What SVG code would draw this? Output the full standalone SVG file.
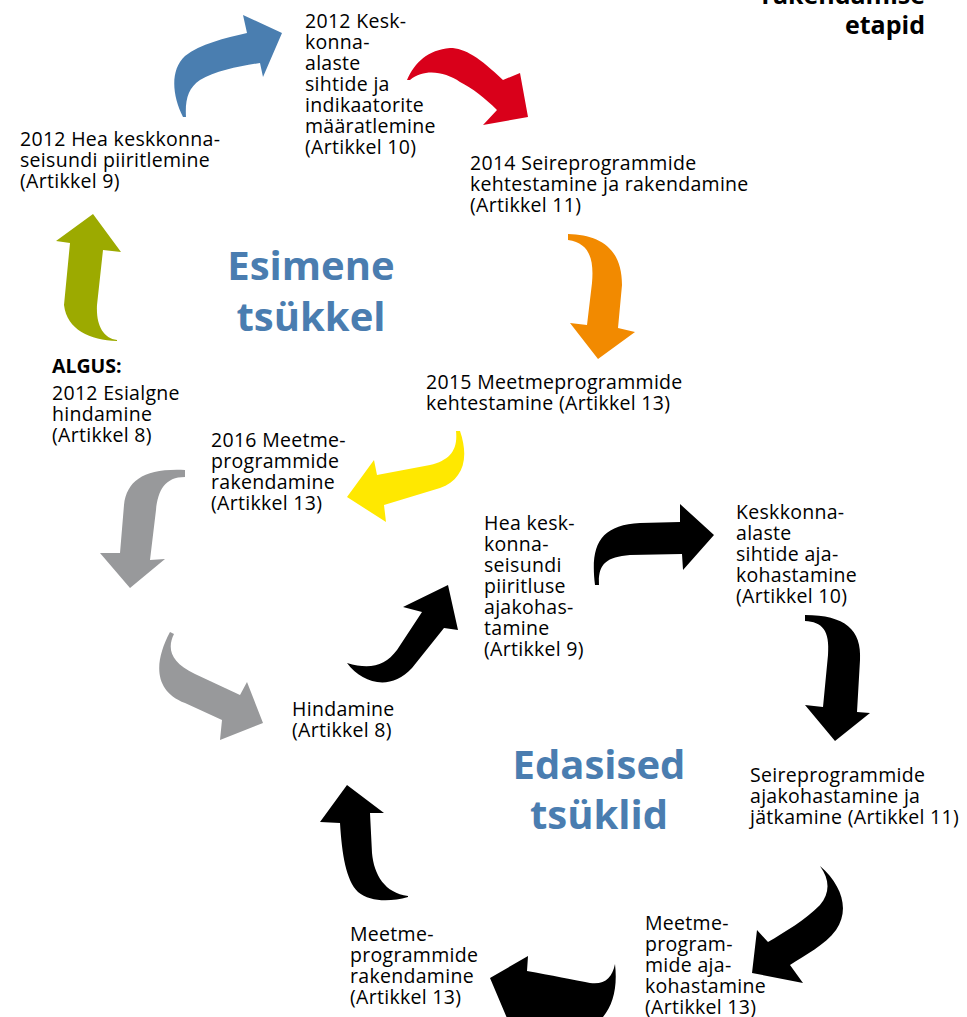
<svg xmlns="http://www.w3.org/2000/svg" width="967" height="1017" viewBox="0 0 967 1017">
<style>
.t{font-family:"Open Sans","Noto Sans","Liberation Sans",sans-serif;font-size:19.5px;letter-spacing:0.3px;fill:#000}
.b{font-weight:bold;letter-spacing:0}
.h{font-family:"Open Sans","Noto Sans","Liberation Sans",sans-serif;font-size:25px;font-weight:bold;fill:#000;text-anchor:end}
.title{font-family:"Open Sans","Noto Sans","Liberation Sans",sans-serif;font-size:40px;font-weight:bold;fill:#4A7DB0;text-anchor:middle}
.blue{fill:#4A7EB0}.red{fill:#D9001A}.orange{fill:#F28A00}.yellow{fill:#FFE800}.green{fill:#9CAA00}.gray{fill:#98999B}.black{fill:#000}
</style>
<rect width="967" height="1017" fill="#fff"/>
<g id="heading">
<text class="h" x="925" y="4">rakendamise</text>
<text class="h" x="925" y="34">etapid</text>
</g>
<g id="title-first">
<text class="title" x="311" y="280">Esimene<tspan x="311" dy="51">tsükkel</tspan></text>
</g>
<g id="title-next">
<text class="title" x="599" y="779">Edasised<tspan x="599" dy="50">tsüklid</tspan></text>
</g>
<g id="connectors">
<path class="blue" d="M 183,117 C 172,95 170,70 185,56 C 200,44 225,38 247,33 L 243,15 L 282,33 L 263,77 L 260,63 C 240,66 215,71 200,80 C 188,88 185,100 186,117 Z"/>
<path class="red" d="M 407,80 C 415,62 428,50 450,48 C 465,48 480,58 503,80 L 520,73 L 528,117 L 483,125 L 497,110 C 485,98 472,88 460,82 C 445,72 425,68 410,80 Z"/>
<path class="orange" d="M 568,234 C 600,235 622,248 622,285 L 618,328 L 635,332 L 598,359 L 570,323 L 587,325 L 592,283 C 594,260 590,243 568,240 Z"/>
<path class="yellow" d="M 456,431 L 460,431 C 470,460 462,480 440,488 L 384,505 L 386,522 L 347,497 L 374,460 L 377,475 L 430,465 C 450,460 458,450 456,431 Z"/>
<path class="green" d="M 93,214 L 121,252 L 103,250 L 97,305 C 96,325 103,338 117,340 L 117,341 C 90,340 67,330 64,305 L 70,243 L 56,241 Z"/>
<path class="gray" d="M 185,470 L 185,477 C 165,477 158,490 156,510 L 150,560 L 165,559 L 130,588 L 100,553 L 120,553 L 124,505 C 127,480 145,468 185,470 Z"/>
<path class="gray" d="M 170,632 C 155,660 152,690 185,703 L 222,720 L 220,740 L 263,723 L 247,682 L 240,695 L 195,674 C 170,662 167,648 174,634 Z"/>
<path class="black" d="M 347,663 C 362,683 390,692 412,668 L 444,628 L 458,630 L 448,585 L 403,607 L 422,612 L 397,650 C 385,666 370,670 347,663 Z"/>
<path class="black" d="M 595,585 C 590,545 600,525 640,523 L 680,522 L 680,504 L 714,535 L 683,570 L 682,554 L 630,555 C 605,557 598,565 599,585 Z"/>
<path class="black" d="M 805,615 C 845,615 862,630 860,660 L 857,712 L 870,713 L 835,741 L 805,705 L 823,707 L 828,655 C 830,630 822,622 805,621 Z"/>
<path class="black" d="M 820,866 C 842,885 850,910 836,930 C 825,945 805,955 790,965 L 803,983 L 752,973 L 757,930 L 768,942 C 785,932 805,920 820,905 C 830,893 830,880 820,866 Z"/>
<path class="black" d="M 615,964 C 618,990 612,1010 598,1022 L 525,1022 L 512,1030 L 490,978 L 528,956 L 527,971 C 550,975 575,980 590,983 C 605,985 612,978 615,964 Z"/>
<path class="black" d="M 347,785 L 384,813 L 370,813 L 372,853 C 374,875 385,893 408,896 L 408,897 C 390,902 370,902 358,892 C 346,880 342,855 340,823 L 320,822 Z"/>
</g>
<g id="n-kesk2012">
<text class="t" x="305" y="28">2012 Kesk-<tspan x="305" dy="21">konna-</tspan><tspan x="305" dy="21">alaste</tspan><tspan x="305" dy="21">sihtide ja</tspan><tspan x="305" dy="21">indikaatorite</tspan><tspan x="305" dy="21">määratlemine</tspan><tspan x="305" dy="21">(Artikkel 10)</tspan></text>
</g>
<g id="n-hea2012">
<text class="t" x="20" y="146">2012 Hea keskkonna-<tspan x="20" dy="21">seisundi piiritlemine</tspan><tspan x="20" dy="21">(Artikkel 9)</tspan></text>
</g>
<g id="n-algus">
<text class="t b" x="52" y="373">ALGUS:</text>
<text class="t" x="52" y="400">2012 Esialgne<tspan x="52" dy="21">hindamine</tspan><tspan x="52" dy="21">(Artikkel 8)</tspan></text>
</g>
<g id="n-seire2014">
<text class="t" x="470" y="170">2014 Seireprogrammide<tspan x="470" dy="21">kehtestamine ja rakendamine</tspan><tspan x="470" dy="21">(Artikkel 11)</tspan></text>
</g>
<g id="n-meet2015">
<text class="t" x="426" y="389">2015 Meetmeprogrammide<tspan x="426" dy="21">kehtestamine (Artikkel 13)</tspan></text>
</g>
<g id="n-meet2016">
<text class="t" x="211" y="447">2016 Meetme-<tspan x="211" dy="21">programmide</tspan><tspan x="211" dy="21">rakendamine</tspan><tspan x="211" dy="21">(Artikkel 13)</tspan></text>
</g>
<g id="n-hea">
<text class="t" x="484" y="530">Hea kesk-<tspan x="484" dy="21">konna-</tspan><tspan x="484" dy="21">seisundi</tspan><tspan x="484" dy="21">piiritluse</tspan><tspan x="484" dy="21">ajakohas-</tspan><tspan x="484" dy="21">tamine</tspan><tspan x="484" dy="21">(Artikkel 9)</tspan></text>
</g>
<g id="n-kesk">
<text class="t" x="736" y="519">Keskkonna-<tspan x="736" dy="21">alaste</tspan><tspan x="736" dy="21">sihtide aja-</tspan><tspan x="736" dy="21">kohastamine</tspan><tspan x="736" dy="21">(Artikkel 10)</tspan></text>
</g>
<g id="n-hindamine">
<text class="t" x="292" y="716">Hindamine<tspan x="292" dy="21">(Artikkel 8)</tspan></text>
</g>
<g id="n-seire">
<text class="t" x="750" y="782">Seireprogrammide<tspan x="750" dy="21">ajakohastamine ja</tspan><tspan x="750" dy="21">jätkamine (Artikkel 11)</tspan></text>
</g>
<g id="n-meet-ajak">
<text class="t" x="645" y="930">Meetme-<tspan x="645" dy="21">program-</tspan><tspan x="645" dy="21">mide aja-</tspan><tspan x="645" dy="21">kohastamine</tspan><tspan x="645" dy="21">(Artikkel 13)</tspan></text>
</g>
<g id="n-meet-rak">
<text class="t" x="350" y="941">Meetme-<tspan x="350" dy="21">programmide</tspan><tspan x="350" dy="21">rakendamine</tspan><tspan x="350" dy="21">(Artikkel 13)</tspan></text>
</g>
</svg>
